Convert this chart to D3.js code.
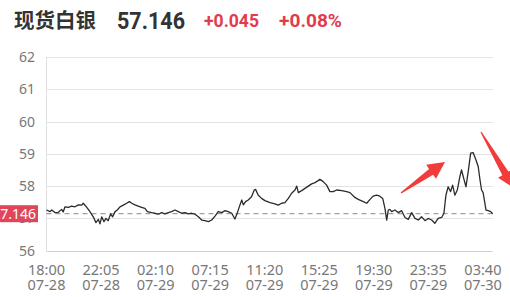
<!DOCTYPE html>
<html><head><meta charset="utf-8">
<script src="https://cdn.jsdelivr.net/npm/d3@7"></script>
<style>body{margin:0;background:#fff}svg{display:block}</style>
</head><body>
<script>
const title = "现货白银";
const lastPrice = 57.146;
const change = "+0.045";
const changePct = "+0.08%";
const yTicks = [56, 57, 58, 59, 60, 61, 62];
const xTickMinutes = [0, 245, 490, 735, 980, 1225, 1470, 1715, 1960];
const xTickTimes = ["18:00","22:05","02:10","07:15","11:20","15:25","19:30","23:35","03:40"];
const xTickDates = ["07-28","07-28","07-29","07-29","07-29","07-29","07-29","07-29","07-30"];
const minutes = [0,16,23,38,53,68,75,83,98,113,128,143,158,165,181,195,210,222,233,240,248,258,267,277,288,297,308,318,330,345,360,372,383,397,412,427,442,453,472,487,502,517,532,547,562,577,592,607,622,637,652,667,682,697,712,727,742,757,771,787,802,816,832,846,854,869,877,884,894,906,921,933,939,951,966,981,1004,1026,1041,1056,1071,1086,1101,1116,1124,1131,1146,1161,1176,1191,1206,1220,1228,1243,1258,1273,1288,1303,1326,1348,1363,1385,1400,1423,1438,1453,1467,1483,1497,1510,1520,1528,1535,1542,1550,1565,1580,1595,1610,1625,1640,1655,1670,1685,1700,1714,1730,1744,1759,1775,1785,1794,1804,1815,1824,1834,1845,1857,1864,1875,1884,1894,1905,1916,1929,1939,1947,1954,1961,1974,1984,1995,2004];
const prices = [57.26,57.21,57.26,57.18,57.19,57.28,57.20,57.36,57.34,57.38,57.36,57.42,57.41,57.47,57.34,57.21,57.05,56.87,56.97,56.83,57.05,56.90,57.00,56.93,57.14,57.05,57.21,57.26,57.36,57.41,57.47,57.52,57.47,57.42,57.38,57.34,57.31,57.21,57.18,57.16,57.13,57.18,57.14,57.18,57.21,57.26,57.21,57.16,57.18,57.14,57.16,57.13,57.05,56.95,56.93,56.90,56.95,57.07,57.21,57.18,57.24,57.21,57.16,56.98,57.11,57.42,57.57,57.42,57.52,57.57,57.67,57.88,57.90,57.72,57.62,57.55,57.49,57.45,57.41,57.47,57.49,57.62,57.78,57.88,58.00,57.80,57.86,57.93,58.00,58.07,58.11,58.17,58.21,58.14,58.03,57.83,57.83,57.88,57.86,57.83,57.80,57.65,57.59,57.52,57.47,57.59,57.69,57.72,57.69,57.62,57.31,56.95,57.26,57.28,57.21,57.26,57.18,57.24,57.03,56.97,57.18,57.00,56.95,57.05,56.93,57.00,56.95,56.85,57.00,57.03,57.16,57.72,57.98,57.83,58.03,57.72,57.88,58.31,58.50,58.21,57.98,58.45,59.02,59.04,58.81,58.60,58.19,57.88,57.80,57.26,57.24,57.21,57.146];

const W = 510, H = 297;
const red = "#e23b4e";
const svg = d3.select("body").append("svg").attr("width", W).attr("height", H);

const x = d3.scaleLinear().domain([0, 2004]).range([46.5, 492.7]);
const y = d3.scaleLinear().domain([56, 62]).range([250.7, 57]);

// title
const t = svg.append("g");
t.append("text").attr("x", 14).attr("y", 28).text(title)
  .attr("font-family", "'Noto Sans CJK SC'").attr("font-weight", 700)
  .attr("font-size", 20.5).attr("fill", "#333");
t.append("text").attr("x", 117).attr("y", 29).text(lastPrice.toFixed(3))
  .attr("font-family", "Roboto").attr("font-weight", 700)
  .attr("font-size", 24).attr("fill", "#333")
  .attr("textLength", 68).attr("lengthAdjust", "spacingAndGlyphs");
t.append("text").attr("x", 204).attr("y", 27).text(change)
  .attr("font-family", "Roboto").attr("font-weight", 700)
  .attr("font-size", 18).attr("fill", red)
  .attr("textLength", 55).attr("lengthAdjust", "spacingAndGlyphs");
t.append("text").attr("x", 279).attr("y", 27).text(changePct)
  .attr("font-family", "Roboto").attr("font-weight", 700)
  .attr("font-size", 18).attr("fill", red)
  .attr("textLength", 63).attr("lengthAdjust", "spacingAndGlyphs");

// grid
svg.append("g").selectAll("line").data(yTicks).join("line")
  .attr("x1", 46.5).attr("x2", 492.7)
  .attr("y1", d => Math.round(y(d)) + 0.5).attr("y2", d => Math.round(y(d)) + 0.5)
  .attr("stroke", d => d === 56 ? "#d0d0d0" : "#e3e3e3").attr("stroke-width", 1);
svg.append("line").attr("x1", 46.5).attr("x2", 46.5)
  .attr("y1", y(62)).attr("y2", y(56)).attr("stroke", "#e0e0e0");

// y labels
svg.append("g").selectAll("text").data(yTicks).join("text")
  .attr("x", 35).attr("y", d => y(d)).attr("dy", "0.36em")
  .attr("text-anchor", "end").text(d => d)
  .attr("font-family", "'Noto Sans'").attr("font-size", 14).attr("fill", "#777");

// x labels (two lines each)
const xl = svg.append("g").selectAll("text").data(xTickMinutes).join("text")
  .attr("transform", d => `translate(${x(d)},0)`)
  .attr("text-anchor", "middle")
  .attr("font-family", "'Noto Sans'").attr("font-size", 14.5).attr("fill", "#777");
xl.append("tspan").attr("x", 0).attr("y", 275).text((d, i) => xTickTimes[i]);
xl.append("tspan").attr("x", 0).attr("y", 290).text((d, i) => xTickDates[i]);

// dashed last price line
svg.append("line").attr("x1", 46.5).attr("x2", 492.7)
  .attr("y1", y(lastPrice)).attr("y2", y(lastPrice))
  .attr("stroke", "#888").attr("stroke-dasharray", "5,4").attr("stroke-width", 1);

// price line
const data = minutes.map((m, i) => ({m, p: prices[i]}));
svg.append("path").datum(data)
  .attr("d", d3.line().x(d => x(d.m)).y(d => y(d.p)))
  .attr("fill", "none").attr("stroke", "#2b2b2b").attr("stroke-width", 1.3)
  .attr("stroke-linejoin", "round");

// last price tag
const ly = y(lastPrice);
svg.append("rect").attr("x", 0).attr("y", ly - 8.5).attr("width", 38).attr("height", 17).attr("fill", "#e0465a");
svg.append("text").attr("x", 36).attr("y", ly).attr("dy", "0.36em").attr("text-anchor", "end")
  .text(lastPrice.toFixed(3)).attr("font-family", "'Noto Sans'").attr("font-size", 14).attr("fill", "#fff");

// red annotation arrows
function arrow(x0, y0, x1, y1) {
  const dx = x1 - x0, dy = y1 - y0, L = Math.hypot(dx, dy);
  const ux = dx / L, uy = dy / L, nx = -uy, ny = ux;
  const hb = L - 17;
  const P = (s, w) => [x0 + ux * s + nx * w, y0 + uy * s + ny * w];
  const pts = [P(0, 0.6), P(hb, 3.5), P(hb, 8.5), P(L, 0), P(hb, -8.5), P(hb, -3.5), P(0, -0.6)];
  svg.append("path").attr("d", "M" + pts.map(p => p.join(",")).join("L") + "Z").attr("fill", "#f23c3c");
}
arrow(401, 193, 445, 162);
arrow(481, 132, 514, 188);
</script>
</body></html>
